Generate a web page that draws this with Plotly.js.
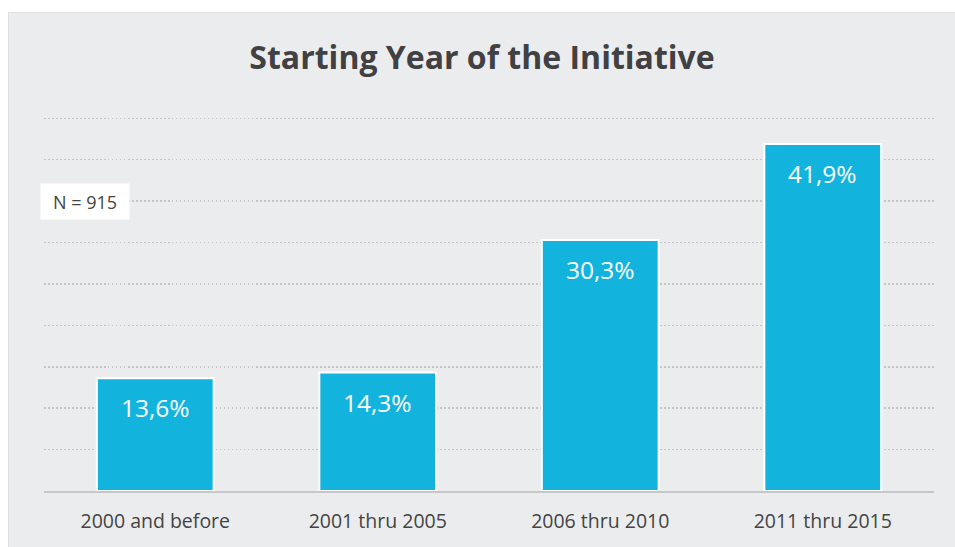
<!DOCTYPE html>
<html>
<head>
<meta charset="utf-8">
<script src="https://cdn.plot.ly/plotly-3.0.1.min.js"></script>
<style>
  html, body { margin: 0; padding: 0; background: #ffffff; }
  #panel { position: absolute; left: 8px; top: 12px; width: 947px; height: 535px; box-sizing: border-box; border-left: 1px solid #dfe0e2; border-top: 1px solid #dfe0e2; }
  #chart { width: 946px; height: 534px; }
</style>
</head>
<body>
<div id="panel"><div id="chart"></div></div>
<script>
const categories = ["2000 and before", "2001 thru 2005", "2006 thru 2010", "2011 thru 2015"];
const values = [13.6, 14.3, 30.3, 41.9];
const valueLabels = ["13,6%", "14,3%", "30,3%", "41,9%"];
const sampleNote = "N = 915";
const chartTitle = "Starting Year of the Initiative";

const FONT = "Open Sans, sans-serif";
const bg = "#ebecee";

const trace = {
  type: "bar",
  x: categories,
  y: values,
  marker: { color: "#12b4dd", line: { color: "#ffffff", width: 2 } },
  hoverinfo: "none",
  width: 0.525
};

const annotations = categories.map((c, i) => ({
  x: c, y: values[i], xref: "x", yref: "y",
  text: valueLabels[i], showarrow: false,
  yanchor: "top", yshift: -11,
  font: { family: FONT, size: 24.5, color: "#ffffff" }
}));
annotations.push({
  xref: "paper", yref: "y", x: -0.005, y: 35,
  xanchor: "left", yanchor: "middle",
  text: sampleNote, showarrow: false,
  bgcolor: "#ffffff", borderpad: 5, width: 78, height: 25,
  font: { family: FONT, size: 18, color: "#444444" }
});

const layout = {
  width: 946, height: 534,
  paper_bgcolor: bg, plot_bgcolor: bg,
  margin: { l: 35, r: 21, t: 97, b: 56 },
  title: {
    text: "<b>" + chartTitle + "</b>",
    x: 0.5, xanchor: "center", xref: "container",
    y: 1 - 45 / 534, yanchor: "middle", yref: "container",
    font: { family: FONT, size: 32, color: "#414143" }
  },
  xaxis: {
    showgrid: false, showline: true, linecolor: "#c6c7c9", linewidth: 2,
    ticks: "", tickfont: { family: FONT, size: 19.5, color: "#444444" },
    ticklabelstandoff: 12, fixedrange: true
  },
  yaxis: {
    range: [0, 46], dtick: 5, showticklabels: false,
    showgrid: true, gridcolor: "#c4c5c7", gridwidth: 1.5, griddash: "1.5px,2.5px",
    zeroline: false, fixedrange: true
  },
  annotations: annotations,
  showlegend: false,
  bargap: 0.475
};

Plotly.newPlot("chart", [trace], layout, { displayModeBar: false, staticPlot: true });
</script>
</body>
</html>
